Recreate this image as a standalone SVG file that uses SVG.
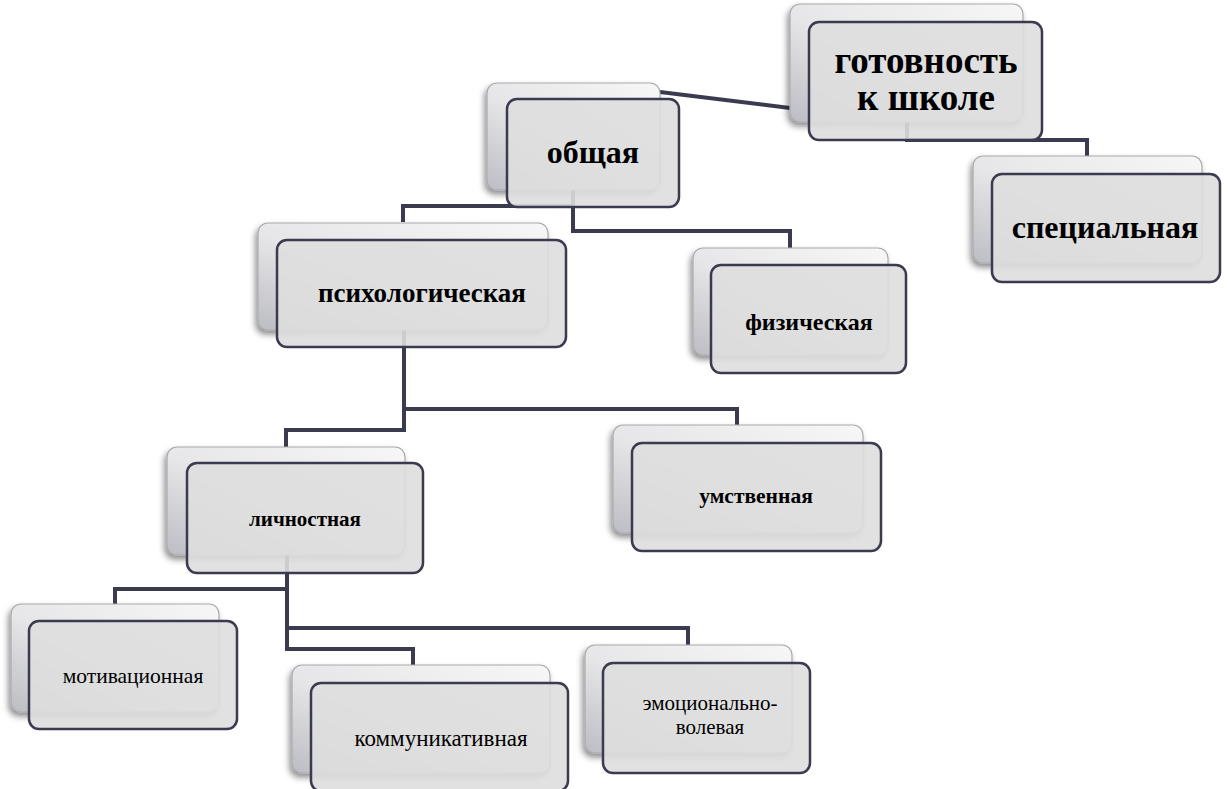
<svg xmlns="http://www.w3.org/2000/svg" width="1228" height="789" viewBox="0 0 1228 789">
<defs>
<linearGradient id="bg" x1="0" y1="1" x2="1" y2="0">
<stop offset="0" stop-color="#bcbdc3"/>
<stop offset="0.45" stop-color="#e6e6e8"/>
<stop offset="1" stop-color="#f7f7f7"/>
</linearGradient>
<filter id="sh" x="-10%" y="-10%" width="120%" height="130%">
<feDropShadow dx="-2" dy="4" stdDeviation="3" flood-color="#000" flood-opacity="0.45"/>
</filter>
<style>
.back{fill:url(#bg);stroke:#a9a9ad;stroke-width:1.2;filter:url(#sh)}
.front{fill:#dedede;fill-opacity:0.9;stroke:#3a3b4f;stroke-width:2.5}
.conn{fill:none;stroke:#3a3b4f;stroke-width:4;stroke-linejoin:miter}
text{font-family:'Liberation Serif','Times New Roman',serif;fill:#000;text-anchor:middle}
.tb{font-weight:bold}
</style>
</defs>
<rect width="1228" height="789" fill="#fff"/>
<g id="connectors">
<path class="conn" d="M660,92 L790,108"/>
<path class="conn" d="M907,122 V140 H1087 V156"/>
<path class="conn" d="M573,190 V231 H790 V248"/>
<path class="conn" d="M573,190 V206 H403 V222"/>
<path class="conn" d="M404,330 V430 H286 V447"/>
<path class="conn" d="M404,330 V409 H737 V425"/>
<path class="conn" d="M287,555 V649 H413 V665"/>
<path class="conn" d="M287,555 V589 H115 V604"/>
<path class="conn" d="M287,555 V628 H688 V645"/>
</g>
<g id="node-gotovnost">
<rect class="back" x="790" y="4" width="233" height="118" rx="10"/>
<rect class="front" x="809" y="22" width="233" height="118" rx="10"/>
<text class="tb" x="926" y="73" font-size="37">готовность</text>
<text class="tb" x="926" y="110" font-size="37">к школе</text>
</g>
<g id="node-obshaya">
<rect class="back" x="487" y="83" width="173" height="107" rx="10"/>
<rect class="front" x="507" y="99" width="172" height="108" rx="10"/>
<text class="tb" x="593" y="163" font-size="32">общая</text>
</g>
<g id="node-specialnaya">
<rect class="back" x="973" y="156" width="229" height="107" rx="10"/>
<rect class="front" x="992" y="174" width="228" height="108" rx="10"/>
<text class="tb" x="1105" y="238" font-size="32">специальная</text>
</g>
<g id="node-psihologicheskaya">
<rect class="back" x="258" y="223" width="290" height="107" rx="10"/>
<rect class="front" x="277" y="240" width="289" height="107" rx="10"/>
<text class="tb" x="422" y="302" font-size="27">психологическая</text>
</g>
<g id="node-fizicheskaya">
<rect class="back" x="693" y="248" width="195" height="107" rx="10"/>
<rect class="front" x="711" y="265" width="195" height="108" rx="10"/>
<text class="tb" x="809" y="330" font-size="24">физическая</text>
</g>
<g id="node-umstvennaya">
<rect class="back" x="613" y="425" width="250" height="108" rx="10"/>
<rect class="front" x="632" y="443" width="249" height="108" rx="10"/>
<text class="tb" x="756" y="503" font-size="21.5">умственная</text>
</g>
<g id="node-lichnostnaya">
<rect class="back" x="167" y="447" width="238" height="108" rx="10"/>
<rect class="front" x="187" y="463" width="236" height="110" rx="10"/>
<text class="tb" x="305" y="526" font-size="21">личностная</text>
</g>
<g id="node-motivacionnaya">
<rect class="back" x="11" y="604" width="208" height="108" rx="10"/>
<rect class="front" x="29" y="621" width="208" height="108" rx="10"/>
<text x="133" y="683" font-size="21.5">мотивационная</text>
</g>
<g id="node-kommunikativnaya">
<rect class="back" x="292" y="665" width="258" height="108" rx="10"/>
<rect class="front" x="311" y="683" width="257" height="108" rx="10"/>
<text x="441" y="746" font-size="23">коммуникативная</text>
</g>
<g id="node-emocionalno">
<rect class="back" x="585" y="645" width="207" height="108" rx="10"/>
<rect class="front" x="603" y="663" width="207" height="110" rx="10"/>
<text x="710" y="710" font-size="21">эмоционально-</text>
<text x="710" y="734" font-size="21">волевая</text>
</g>
</svg>
